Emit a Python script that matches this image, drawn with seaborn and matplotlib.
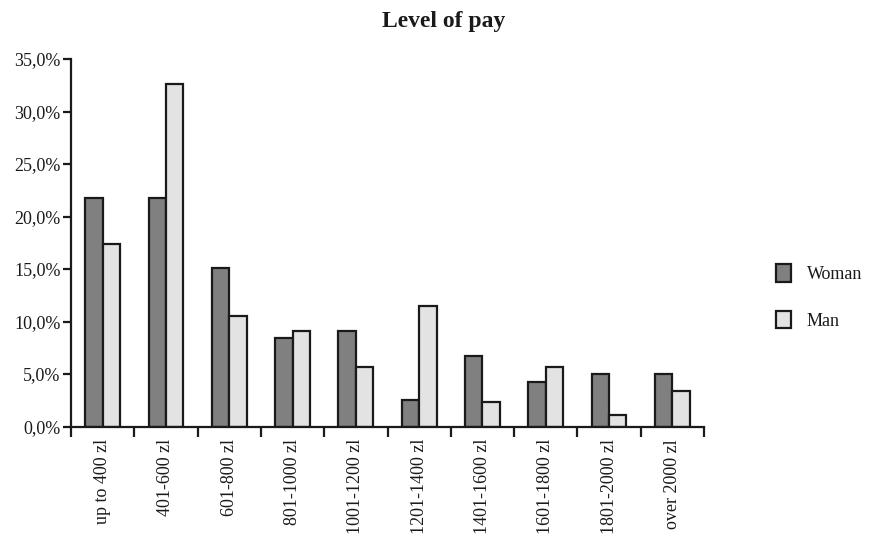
import matplotlib
matplotlib.use("Agg")
import matplotlib.pyplot as plt
import matplotlib.ticker as mticker
from matplotlib.patches import Patch
import seaborn as sns
import pandas as pd
import numpy as np

categories = ["up to 400 zl", "401-600 zl", "601-800 zl", "801-1000 zl",
              "1001-1200 zl", "1201-1400 zl", "1401-1600 zl", "1601-1800 zl",
              "1801-2000 zl", "over 2000 zl"]
woman = [21.8, 21.8, 15.1, 8.4, 9.1, 2.5, 6.7, 4.2, 5.0, 5.0]
man = [17.4, 32.6, 10.5, 9.1, 5.7, 11.5, 2.3, 5.7, 1.1, 3.4]
series = ["Woman", "Man"]
colors = {"Woman": "#808080", "Man": "#e3e3e3"}
ink = "#1a1a1a"

df = pd.DataFrame({
    "category": categories * 2,
    "value": woman + man,
    "sex": ["Woman"] * len(categories) + ["Man"] * len(categories),
})

sns.set_style("white")
plt.rcParams["font.family"] = ["Liberation Serif", "DejaVu Serif"]

W, H = 874, 540
fig = plt.figure(figsize=(W / 100, H / 100), dpi=100)
left, right, bottom, top = 71, 704, 426.5, 59
ax = fig.add_axes([left / W, 1 - bottom / H, (right - left) / W, (bottom - top) / H])

sns.barplot(data=df, x="category", y="value", hue="sex", order=categories,
            hue_order=series, palette=colors, width=0.55, dodge=True,
            edgecolor=ink, linewidth=1.6, legend=False, ax=ax)

ax.set_xlim(-0.5, len(categories) - 0.5)
ax.set_ylim(0, 35)
ax.yaxis.set_major_locator(mticker.MultipleLocator(5))
ax.yaxis.set_major_formatter(mticker.FuncFormatter(lambda v, p: f"{v:.1f}%".replace(".", ",")))

for s in ["top", "right"]:
    ax.spines[s].set_visible(False)
for s in ["left", "bottom"]:
    ax.spines[s].set_color(ink)
    ax.spines[s].set_linewidth(1.6)

ax.set_xlabel("")
ax.set_ylabel("")
ax.set_xticks(np.arange(len(categories)))
ax.set_xticklabels(categories, rotation=90, fontsize=13, color=ink)
ax.tick_params(axis="x", which="major", length=0, pad=9, bottom=True)
ax.set_xticks(np.arange(len(categories) + 1) - 0.5, minor=True)
ax.tick_params(axis="x", which="minor", length=7, width=1.6, color=ink,
               direction="out", bottom=True)
ax.tick_params(axis="y", which="major", length=5.5, width=1.6, color=ink,
               direction="out", labelsize=13, labelcolor=ink, left=True, pad=2)

fig.text(444 / W, 1 - 22 / H, "Level of pay", ha="center", va="center",
         fontsize=17, fontweight="bold", color=ink)

handles = [Patch(facecolor=colors[s], edgecolor=ink, linewidth=1.6, label=s) for s in series]
fig.legend(handles=handles, loc="center left", bbox_to_anchor=(760 / W, 1 - 297 / H),
           frameon=False, fontsize=13, handlelength=0.8, handleheight=1.1,
           labelspacing=1.55, handletextpad=0.9, labelcolor=ink)

fig.savefig("out.png", dpi=100, facecolor="white")
